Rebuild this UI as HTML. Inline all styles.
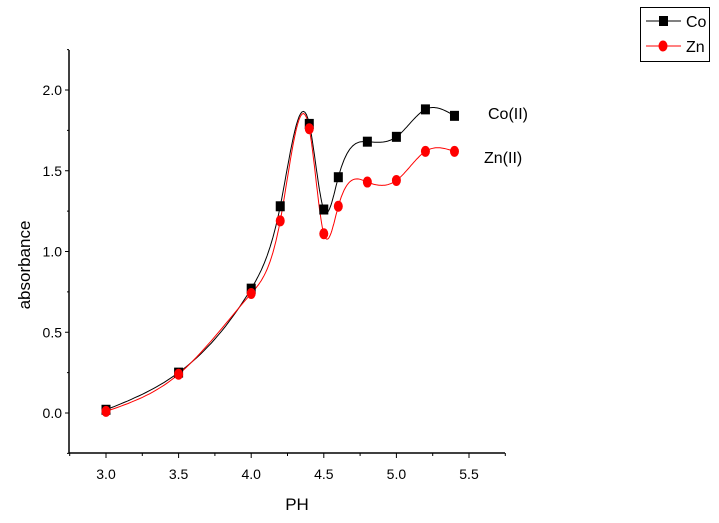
<!DOCTYPE html>
<html><head><meta charset="utf-8"><style>
body{margin:0;background:#fff;}
svg{display:block;font-family:"Liberation Sans",Arial,sans-serif;}
</style></head><body>
<svg id="chart" width="719" height="523" xmlns="http://www.w3.org/2000/svg">
<g id="axes"></g>
<g id="series"></g>
<text x="297" y="510" font-size="17" text-anchor="middle">PH</text>
<text transform="translate(30,265) rotate(-90)" font-size="17" text-anchor="middle">absorbance</text>
<text x="488" y="119" font-size="16">Co(II)</text>
<text x="484" y="163" font-size="16">Zn(II)</text>
<g>
<rect x="640.5" y="7.5" width="69" height="54" fill="#fff" stroke="#000" stroke-width="1"/>
<line x1="646" y1="21" x2="681" y2="21" stroke="#000"/>
<rect x="659" y="16" width="9" height="10" fill="#000"/>
<text x="686" y="27" font-size="16">Co</text>
<line x1="646" y1="46" x2="681" y2="46" stroke="red"/>
<ellipse cx="663" cy="46" rx="4.5" ry="5.5" fill="red"/>
<text x="686" y="52" font-size="16">Zn</text>
</g>
</svg>
<script>
const phValues=[3.0,3.5,4.0,4.2,4.4,4.5,4.6,4.8,5.0,5.2,5.4];
const coValues=[0.02,0.25,0.77,1.28,1.79,1.26,1.46,1.68,1.71,1.88,1.84];
const znValues=[0.01,0.24,0.74,1.19,1.76,1.11,1.28,1.43,1.44,1.62,1.62];
const xTicks=["3.0","3.5","4.0","4.5","5.0","5.5"];
const yTicks=["0.0","0.5","1.0","1.5","2.0"];
const NS="http://www.w3.org/2000/svg";
const X=v=>106+(v-3)*145.2;
const Y=v=>413-v*161.5;
const L=69,R=505,T=50,B=453;
function mk(tag,attrs,parent){const e=document.createElementNS(NS,tag);for(const k in attrs)e.setAttribute(k,attrs[k]);parent.appendChild(e);return e;}
const ax=document.getElementById('axes');
mk('line',{x1:L,y1:T,x2:L,y2:B,stroke:'#000','stroke-width':1.5},ax);
mk('line',{x1:L,y1:B,x2:R,y2:B,stroke:'#000','stroke-width':1.5},ax);
for(let v=-0.25;v<=2.26;v+=0.25){const y=Y(v);const maj=Math.abs(v*2-Math.round(v*2))<1e-6;
 mk('line',{x1:L-(maj?4:2),y1:y,x2:L,y2:y,stroke:'#000'},ax);}
yTicks.forEach(t=>{const e=mk('text',{x:62,y:Y(+t)+5,'font-size':14,'text-anchor':'end'},ax);e.textContent=t;

});
for(let v=2.75;v<=5.76;v+=0.25){const x=X(v);const maj=Math.abs(v*2-Math.round(v*2))<1e-6;
 mk('line',{x1:x,y1:B,x2:x,y2:B+(maj?5:3),stroke:'#000'},ax);}
xTicks.forEach(t=>{const e=mk('text',{x:X(+t),y:479,'font-size':14,'text-anchor':'middle'},ax);e.textContent=t;

});
function spline(xs,ys){const n=xs.length,h=[],a=[],l=[1],mu=[0],z=[0],c=new Array(n).fill(0),b=[],d=[];
 for(let i=0;i<n-1;i++)h.push(xs[i+1]-xs[i]);
 for(let i=1;i<n-1;i++)a[i]=3/h[i]*(ys[i+1]-ys[i])-3/h[i-1]*(ys[i]-ys[i-1]);
 for(let i=1;i<n-1;i++){l[i]=2*(xs[i+1]-xs[i-1])-h[i-1]*mu[i-1];mu[i]=h[i]/l[i];z[i]=(a[i]-h[i-1]*z[i-1])/l[i];}
 for(let j=n-2;j>=0;j--){c[j]=(j<n-1&&j>0?z[j]:0)-mu[j]*c[j+1];b[j]=(ys[j+1]-ys[j])/h[j]-h[j]*(c[j+1]+2*c[j])/3;d[j]=(c[j+1]-c[j])/(3*h[j]);}
 let p='';for(let j=0;j<n-1;j++)for(let k=0;k<=20;k++){const t=h[j]*k/20;const v=ys[j]+b[j]*t+c[j]*t*t+d[j]*t*t*t;p+=(p?'L':'M')+X(xs[j]+t).toFixed(1)+','+Y(v).toFixed(1);}
 return p;}
const sg=document.getElementById('series');
const lc=mk('path',{d:spline(phValues,coValues),fill:'none',stroke:'#000','stroke-width':1},sg);


const lz=mk('path',{d:spline(phValues,znValues),fill:'none',stroke:'red','stroke-width':1},sg);


phValues.forEach((p,i)=>{
 const r=mk('rect',{x:X(p)-4.5,y:Y(coValues[i])-5,width:9,height:10,fill:'#000'},sg);
 
 
 const c=mk('ellipse',{cx:X(p),cy:Y(znValues[i]),rx:4.5,ry:5.5,fill:'red'},sg);
 
 
});
</script>
</body></html>
